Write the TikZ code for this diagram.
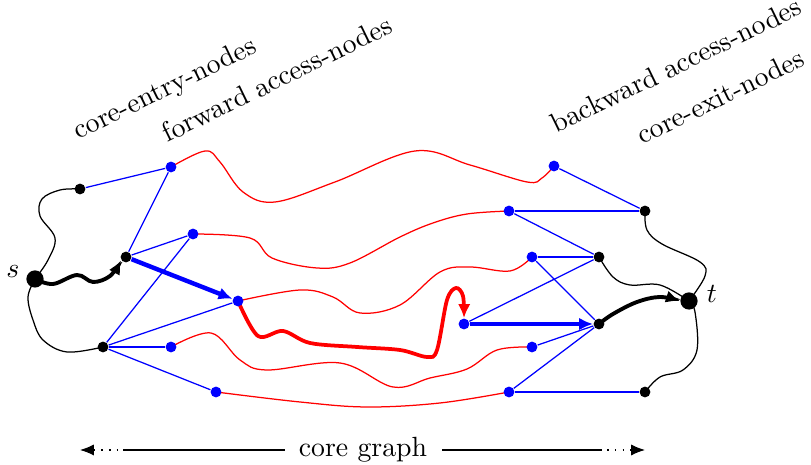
\documentclass[tikz,border=0pt]{standalone}
\usetikzlibrary{arrows.meta,backgrounds}
\begin{document}
\begin{tikzpicture}[x=0.36pt,y=-0.36pt,
  bdot/.style={circle,fill=blue,inner sep=0pt,minimum size=3.9pt},
  kdot/.style={circle,fill=black,inner sep=0pt,minimum size=3.9pt},
  bigdot/.style={circle,fill=black,inner sep=0pt,minimum size=6.2pt},
  bl/.style={blue,line width=0.45pt},
  rl/.style={red,line width=0.45pt},
  kl/.style={black,line width=0.45pt},
  tip/.style={-{Latex[length=5pt,width=4.5pt]}},
  bthick/.style={blue,line width=1.6pt,tip},
  rthick/.style={red,line width=1.35pt,tip},
  kthick/.style={black,line width=1.4pt,tip},
  lab/.style={rotate=26,anchor=base west,inner sep=0pt}
]
\useasboundingbox (0,0) rectangle (811,465);

% nodes
\node[bigdot] (s) at (35,279) {};
\node[bigdot] (t) at (689,301) {};
\node (sl) at (13,272) {$s$};
\node (tl) at (712,294) {$t$};

\node[kdot] (e1) at (80,189) {};
\node[kdot] (e2) at (126,257) {};
\node[kdot] (e3) at (103,347) {};

\node[bdot] (f1) at (171,167) {};
\node[bdot] (f2) at (193,234) {};
\node[bdot] (f3) at (238,301) {};
\node[bdot] (f4) at (171,347) {};
\node[bdot] (f5) at (216,392) {};

\node[bdot] (b1) at (554,166) {};
\node[bdot] (b2) at (509,211) {};
\node[bdot] (b3) at (532,257) {};
\node[bdot] (b4) at (464,324) {};
\node[bdot] (b5) at (532,347) {};
\node[bdot] (b6) at (509,392) {};

\node[kdot] (x1) at (645,211) {};
\node[kdot] (x2) at (599,257) {};
\node[kdot] (x3) at (599,324) {};
\node[kdot] (x4) at (645,392) {};

% labels
\node[lab] (l1) at (78,140) {core-entry-nodes};
\node[lab] (l2) at (167,143) {forward access-nodes};
\node[lab] (l3) at (556,134) {backward access-nodes};
\node[lab] (l4) at (642,145) {core-exit-nodes};

\begin{pgfonlayer}{background}
% blue thin
\draw[bl] (e1) -- (f1);
\draw[bl] (e2) -- (f1);
\draw[bl] (e2) -- (f2);
\draw[bl] (e3) -- (f2);
\draw[bl] (e3) -- (f3);
\draw[bl] (e3) -- (f4);
\draw[bl] (e3) -- (f5);
\draw[bl] (b1) -- (x1);
\draw[bl] (b2) -- (x1);
\draw[bl] (b2) -- (x2);
\draw[bl] (b3) -- (x2);
\draw[bl] (b3) -- (x3);
\draw[bl] (b4) -- (x2);
\draw[bl] (b5) -- (x3);
\draw[bl] (b6) -- (x3);
\draw[bl] (b6) -- (x4);

% red thin
\draw[rl] plot[smooth,tension=0.6] coordinates {(f1) (205,151) (220,162) (243,192) (275,202) (335,182) (415,151) (470,165) (527,182) (542,178) (b1)};
\draw[rl] plot[smooth,tension=0.6] coordinates {(f2) (250,238) (272,258) (317,268) (350,263) (400,237) (433,223) (467,214) (b2)};
\draw[rl] plot[smooth,tension=0.6] coordinates {(f3) (300,290) (333,297) (360,313) (400,305) (440,272) (470,267) (510,271) (b3)};
\draw[rl] plot[smooth,tension=0.6] coordinates {(f4) (211,333) (240,360) (267,370) (340,363) (393,387) (430,378) (467,369) (497,350) (b5)};
\draw[rl] plot[smooth,tension=0.6] coordinates {(f5) (300,402) (367,407) (440,403) (b6)};

% black thin
\draw[kl] plot[smooth,tension=0.6] coordinates {(s) (48,260) (55,238) (40,216) (42,199) (60,190) (e1)};
\draw[kl] plot[smooth,tension=0.6] coordinates {(s) (28,297) (33,320) (43,340) (67,352) (e3)};
\draw[kl] plot[smooth,tension=0.6] coordinates {(x1) (647,230) (662,244) (700,262) (705,276) (t)};
\draw[kl] plot[smooth,tension=0.6] coordinates {(x2) (613,277) (630,285) (660,285) (t)};
\draw[kl] plot[smooth,tension=0.6] coordinates {(x4) (660,377) (683,370) (697,350) (695,312) (t)};

% thick paths
\draw[bthick] (e2) -- (f3);
\draw[bthick] (b4) -- (x3);
\draw[kthick] plot[smooth,tension=0.6] coordinates {(s) (53,284) (77,275) (93,282) (110,276) (e2.215)};
\draw[kthick] plot[smooth,tension=0.6] coordinates {(x3) (613,314) (637,302) (660,297) (t.west)};
\draw[rthick] plot[smooth,tension=0.55] coordinates {(f3) (258,336) (283,331) (310,343) (357,347) (400,350) (427,357) (437,350) (447,300) (456,288) (463,296) (b4.north)};
\end{pgfonlayer}

% core graph scale
\coordinate (ca) at (80,450);
\coordinate (cb) at (645,450);
\coordinate (c1) at (118,450);
\coordinate (c2) at (123,450);
\coordinate (c3) at (285,450);
\coordinate (c4) at (442,450);
\coordinate (c5) at (602,450);
\coordinate (c6) at (607,450);
\node[anchor=base] (cg) at (363,457) {core graph};
\draw[{Latex[length=5pt,width=4pt]}-, dash pattern=on 0.6pt off 2.2pt] (ca) -- (c1);
\draw[kl] (c2) -- (c3);
\draw[kl] (c4) -- (c5);
\draw[-{Latex[length=5pt,width=4pt]}, dash pattern=on 0.6pt off 2.2pt] (c6) -- (cb);
\end{tikzpicture}
\end{document}
